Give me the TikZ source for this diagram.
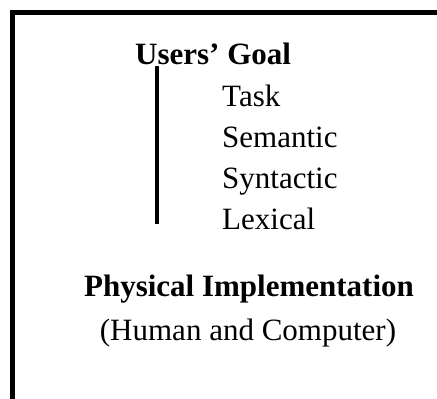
\documentclass[tikz,border=0pt]{standalone}
\usepackage{fontspec}
\setmainfont{Liberation Serif}
\usetikzlibrary{positioning}

\begin{document}
\begin{tikzpicture}[x=1pt, y=-1pt,
    level/.style={anchor=base west, inner sep=0pt, font=\fontsize{31}{36}\selectfont},
    head/.style={inner sep=0pt, font=\fontsize{31}{36}\selectfont\bfseries},
    bar/.style={line width=4.5pt, black}
]
    \useasboundingbox (0,0) rectangle (437,399);
    \clip (0,0) rectangle (437,399);
    % outer frame, cut by the page on the right and bottom
    \draw[line width=5pt] (12.5,420) -- (12.5,12.5) -- (460,12.5);

    \node[head, anchor=base west] (goal) at (135,64) {Users’ Goal};
    \node[level] (task) at (222,106) {Task};
    \node[level] (sem) at (222,147) {Semantic};
    \node[level] (syn) at (222,188) {Syntactic};
    \node[level] (lex) at (222,229) {Lexical};

    \coordinate (bartop) at (157,66);
    \coordinate (barbot) at (157,224);
    \draw[bar] (bartop) -- (barbot);

    \node[head, anchor=base] (phys) at (249,296) {Physical Implementation};
    \node[level, anchor=base] (hc) at (248,340) {(Human and Computer)};
\end{tikzpicture}
\end{document}
